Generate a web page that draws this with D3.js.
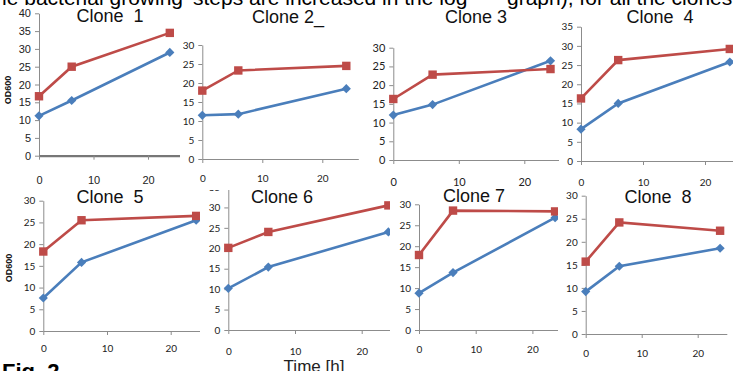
<!DOCTYPE html>
<html>
<head>
<meta charset="utf-8">
<script src="https://cdn.jsdelivr.net/npm/d3@7"></script>
<style>
  body { margin: 0; background: #fff; }
  svg { display: block; }
</style>
</head>
<body>
<div id="fig"></div>
<script>
// data
var times = [0, 6, 24];
var cloneNames = ["Clone  1", "Clone 2_", "Clone 3", "Clone  4", "Clone  5", "Clone 6", "Clone 7", "Clone  8"];
var blueSeries = [
  [11.2, 15.5, 29.0],
  [11.5, 11.8, 18.5],
  [12.0, 14.8, 26.5],
  [8.3, 15.0, 25.8],
  [7.6, 15.8, 25.5],
  [10.2, 15.4, 24.0],
  [8.8, 13.7, 26.8],
  [9.2, 14.7, 18.6]
];
var redSeries = [
  [16.7, 25.0, 34.5],
  [18.0, 23.3, 24.5],
  [16.3, 22.8, 24.3],
  [16.3, 26.3, 29.2],
  [18.3, 25.5, 26.5],
  [20.1, 24.0, 30.5],
  [17.9, 28.5, 28.3],
  [15.7, 24.2, 22.4]
];
var yMaxes = [40, 30, 30, 35, 30, 35, 30, 30];
var xMaxes = [27, 26, 27, 27, 26, 26, 26, 25.2];
var xTickValues = [0, 10, 20];
var yLabelText = "OD600";
var xLabelText = "Time [h]";
var figLabel = "Fig. 2";
var headerLeft = "the bacterial growing";
var headerMid = "steps are increased in the log";
var headerRight = "graph), for all the clones by";

// where each cropped panel sits on the page
var layout = [
  {clip: [0, 0, 180, 188], ax: 39, ay: 155.7, top: 13.3, ppu: 5.45, lab: 24, title: [110, 22], font: "'Liberation Sans Narrow', sans-serif", fs: 11, yLab: [8, 90], thick: true},
  {clip: [180, 0, 182, 188], ax: 202.3, ay: 159, top: 45, ppu: 6.0, lab: 19, title: [288, 23], font: "Lato, sans-serif", fs: 10},
  {clip: [362, 0, 197, 188], ax: 393.3, ay: 160, top: 47.7, ppu: 6.55, lab: 22, title: [476, 23], font: "Lato, sans-serif", fs: 11},
  {clip: [559, 0, 174, 188], ax: 581, ay: 161, top: 26.7, ppu: 6.2, lab: 21, title: [660, 23], font: "Lato, sans-serif", fs: 10},
  {clip: [0, 186, 200, 185], ax: 43.3, ay: 331, top: 200.7, ppu: 6.37, lab: 17, title: [110, 203], font: "Lato, sans-serif", fs: 10, yLab: [9, 268]},
  {clip: [200, 190, 190, 181], ax: 228.3, ay: 330, top: 187, ppu: 6.67, lab: 21, title: [282, 203], font: "Lato, sans-serif", fs: 10},
  {clip: [390, 187, 168, 184], ax: 419, ay: 330, top: 204.3, ppu: 5.67, lab: 19, title: [474, 202], font: "Lato, sans-serif", fs: 10},
  {clip: [558, 187, 175, 184], ax: 585.7, ay: 334, top: 195.7, ppu: 5.6, lab: 19, title: [658, 203], font: "Lato, sans-serif", fs: 10}
];

var blueColor = "#4a7ebb";
var redColor = "#be4b48";
var axisColor = "#8c8c8c";

var svg = d3.select("#fig").append("svg")
  .attr("width", 733)
  .attr("height", 371);

var defs = svg.append("defs");

function diamond(r) {
  return "M0," + (-r) + "L" + r + ",0L0," + r + "L" + (-r) + ",0Z";
}

layout.forEach(function(p, i) {
  defs.append("clipPath").attr("id", "clip" + i)
    .append("rect")
    .attr("x", p.clip[0]).attr("y", p.clip[1])
    .attr("width", p.clip[2]).attr("height", p.clip[3]);

  var g = svg.append("g").attr("clip-path", "url(#clip" + i + ")");
  g.append("rect")
    .attr("x", p.clip[0]).attr("y", p.clip[1])
    .attr("width", p.clip[2]).attr("height", p.clip[3])
    .attr("fill", "#fff");

  var x = d3.scaleLinear().domain([0, xMaxes[i]]).range([p.ax, p.ax + xMaxes[i] * p.ppu]);
  var y = d3.scaleLinear().domain([0, yMaxes[i]]).range([p.ay, p.top]);

  var yAxis = g.append("g")
    .attr("transform", "translate(" + p.ax + ",0)")
    .call(d3.axisLeft(y).tickValues(d3.range(0, yMaxes[i] + 1, 5)).tickSize(4).tickSizeOuter(0).tickPadding(4));

  var xAxis = g.append("g")
    .attr("transform", "translate(0," + p.ay + ")")
    .call(d3.axisBottom(x).tickValues(xTickValues).tickSize(4).tickSizeOuter(0).tickPadding(p.lab - 4 - p.fs * 0.36));

  [yAxis, xAxis].forEach(function(a) {
    a.selectAll("path, line").attr("stroke", axisColor);
    a.selectAll("text")
      .attr("fill", "#222")
      .style("font-family", p.font)
      .style("font-size", p.fs + "px");
  });
  if (p.thick) xAxis.select("path").attr("stroke", "#777").attr("stroke-width", 2.2);

  var line = d3.line().x(function(d, k) { return x(times[k]); }).y(function(d) { return y(d); });

  g.append("path").datum(blueSeries[i])
    .attr("d", line).attr("fill", "none")
    .attr("stroke", blueColor).attr("stroke-width", 2.6);
  g.append("path").datum(redSeries[i])
    .attr("d", line).attr("fill", "none")
    .attr("stroke", redColor).attr("stroke-width", 2.6);

  g.selectAll(".dia").data(blueSeries[i]).enter()
    .append("path")
    .attr("d", diamond(4.6))
    .attr("transform", function(d, k) { return "translate(" + x(times[k]) + "," + y(d) + ")"; })
    .attr("fill", blueColor);

  g.selectAll(".sq").data(redSeries[i]).enter()
    .append("rect")
    .attr("x", function(d, k) { return x(times[k]) - 4.2; })
    .attr("y", function(d) { return y(d) - 4.2; })
    .attr("width", 8.4).attr("height", 8.4)
    .attr("fill", redColor);

  g.append("text")
    .attr("x", p.title[0]).attr("y", p.title[1])
    .attr("text-anchor", "middle")
    .style("font-family", "'Liberation Sans', Arial, sans-serif")
    .style("font-size", "18px")
    .style("white-space", "pre")
    .attr("fill", "#111")
    .text(cloneNames[i]);

  if (p.yLab) {
    g.append("text")
      .attr("transform", "translate(" + p.yLab[0] + "," + p.yLab[1] + ") rotate(-90)")
      .attr("text-anchor", "middle")
      .attr("dy", "0.35em")
      .style("font-family", "'Liberation Sans', Arial, sans-serif")
      .style("font-size", "9px")
      .style("font-weight", "bold")
      .attr("fill", "#111")
      .text(yLabelText);
  }
});

// clipped caption pieces of the page the figure was cut from
var capFont = "'Liberation Sans', Arial, sans-serif";
svg.append("text").attr("x", 183).attr("y", 5).attr("text-anchor", "end")
  .style("font-family", capFont).style("font-size", "21px").text(headerLeft);
svg.append("text").attr("x", 193).attr("y", 5)
  .style("font-family", capFont).style("font-size", "21px").text(headerMid);
svg.append("text").attr("x", 507).attr("y", 5)
  .style("font-family", capFont).style("font-size", "21px").text(headerRight);

svg.append("text").attr("x", 314).attr("y", 372).attr("text-anchor", "middle")
  .style("font-family", capFont).style("font-size", "17px").attr("fill", "#222").text(xLabelText);

svg.append("text").attr("x", 2).attr("y", 379)
  .style("font-family", capFont).style("font-size", "22px").style("font-weight", "bold").text(figLabel);
</script>
</body>
</html>
